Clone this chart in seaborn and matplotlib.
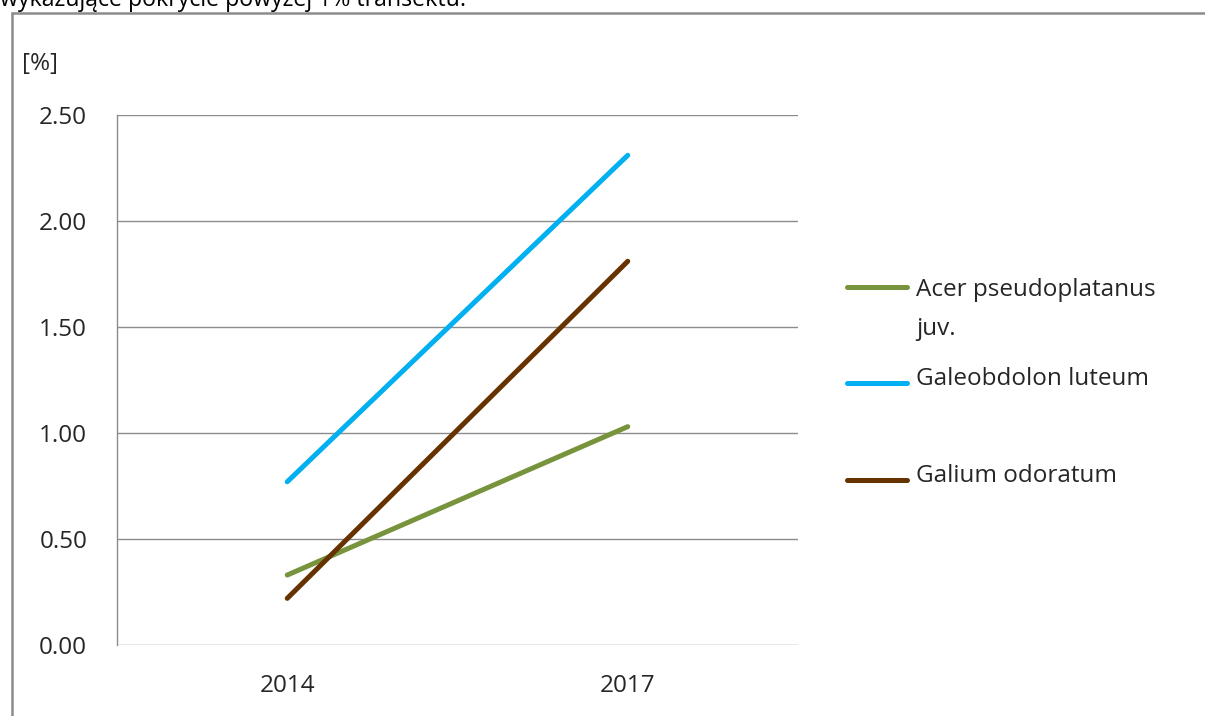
import matplotlib
matplotlib.use("Agg")
import matplotlib.pyplot as plt
import seaborn as sns
import pandas as pd
from matplotlib.lines import Line2D

# Plant cover in the transect, 2014 vs 2017
years = ["2014", "2017"]
species = ["Acer pseudoplatanus juv.", "Galeobdolon luteum", "Galium odoratum"]
acer = [0.33, 1.03]
galeobdolon = [0.77, 2.31]
galium = [0.22, 1.81]
legend_labels = ["Acer pseudoplatanus\njuv.", "Galeobdolon luteum", "Galium odoratum"]
yticks = [0.0, 0.5, 1.0, 1.5, 2.0, 2.5]
colors = ["#77933C", "#00B0F0", "#663300"]

df = pd.DataFrame({
    "rok": years * 3,
    "gatunek": [species[0]] * 2 + [species[1]] * 2 + [species[2]] * 2,
    "pokrycie": acer + galeobdolon + galium,
})

sns.set_theme(style="white")
plt.rcParams["font.family"] = ["Open Sans", "DejaVu Sans"]

FS = 17.5
TXT = "#262626"
W, H = 1205, 716
fig = plt.figure(figsize=(W / 100, H / 100), dpi=100)
fig.patch.set_facecolor("white")

ax = fig.add_axes([117 / W, 1 - 645 / H, (798 - 117) / W, (645 - 115) / H])
sns.lineplot(data=df, x="rok", y="pokrycie", hue="gatunek", palette=colors,
             linewidth=3.6, ax=ax, legend=False, sort=False)
for ln in ax.lines:
    ln.set_solid_capstyle("round")

ax.set_xlim(-0.5, 1.5)
ax.set_ylim(0, 2.5)
ax.set_yticks(yticks)
ax.set_yticklabels([f"{v:.2f}" for v in yticks])
ax.set_xlabel("")
ax.set_ylabel("")
ax.yaxis.grid(True, color="#8c8c8c", linewidth=1.0)
ax.set_axisbelow(True)
for s in ["top", "right", "bottom"]:
    ax.spines[s].set_visible(False)
ax.spines["left"].set_color("#8c8c8c")
ax.spines["left"].set_linewidth(1.0)
ax.tick_params(axis="y", length=0, pad=21.5, labelsize=FS, colors=TXT)
ax.tick_params(axis="x", length=0, pad=21, labelsize=FS, colors=TXT)

# unit label above the value axis
fig.text(22 / W, 1 - 70 / H, "[%]", fontsize=FS, color=TXT, va="baseline", ha="left")

# caption line partly hidden above the chart frame
fig.text(0, 1 - 6 / H, "wykazujące pokrycie powyżej 1% transektu.", fontsize=16.7,
         color="#000000", va="baseline", ha="left")

# chart frame (left and top edges)
fig.add_artist(Line2D([11.5 / W, 11.5 / W], [0, 1 - 12.5 / H], transform=fig.transFigure,
                      color="#8c8c8c", linewidth=1.8))
fig.add_artist(Line2D([11.5 / W, 1], [1 - 12.5 / H, 1 - 12.5 / H], transform=fig.transFigure,
                      color="#8c8c8c", linewidth=1.8))

# legend (text baseline refers to the last line of each label)
legend_line_y = [287, 383, 480]
legend_text_y = [335, 385, 482]
for lab, col, ly, ty in zip(legend_labels, colors, legend_line_y, legend_text_y):
    fig.add_artist(Line2D([847 / W, 907 / W], [1 - ly / H, 1 - ly / H],
                          transform=fig.transFigure, color=col, linewidth=3.6,
                          solid_capstyle="round"))
    fig.text(916 / W, 1 - ty / H, lab, fontsize=FS, color=TXT,
             va="baseline", ha="left", linespacing=1.83)

fig.savefig("out.png", dpi=100, facecolor="white")
